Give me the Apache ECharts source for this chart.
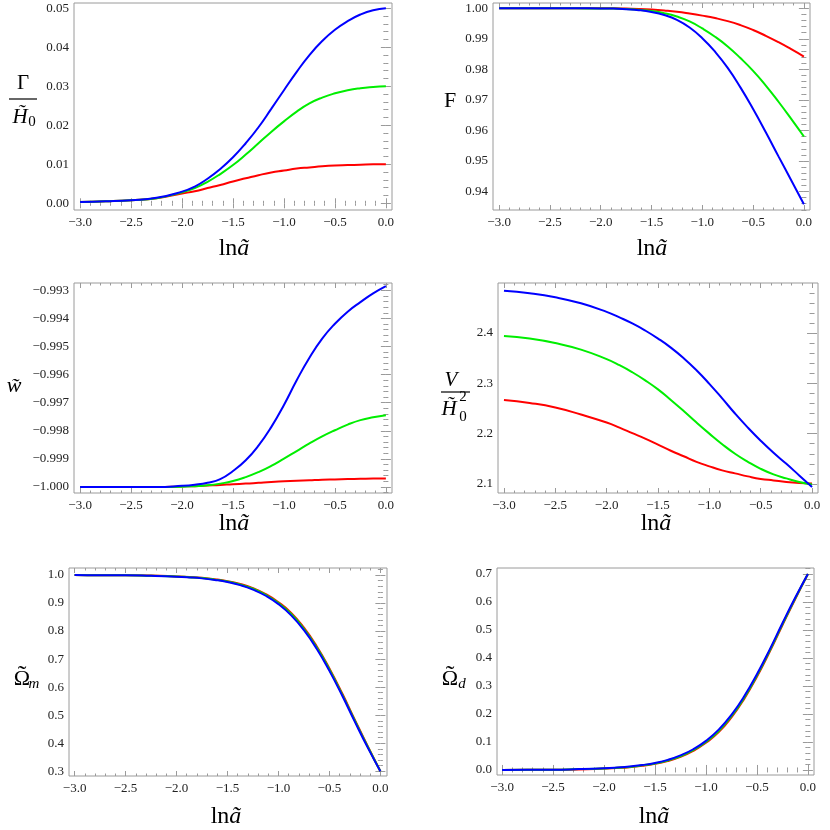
<!DOCTYPE html>
<html><head><meta charset="utf-8">
<script src="https://cdn.jsdelivr.net/npm/echarts@6/dist/echarts.min.js"></script>
<style>html,body{margin:0;padding:0;background:#fff}#c{width:830px;height:830px}</style>
</head><body><div id="c"></div>
<script>
// ---------- data ----------
const lnA = [-3, -2.75, -2.5, -2.25, -2, -1.875, -1.75, -1.625, -1.5, -1.375, -1.25, -1.125, -1, -0.875, -0.75, -0.625, -0.5, -0.375, -0.25, -0.125, 0];
const xTicks = [-3, -2.5, -2, -1.5, -1, -0.5, 0];
const xTickLabels = ['−3.0', '−2.5', '−2.0', '−1.5', '−1.0', '−0.5', '0.0'];

// Gamma / H0
const gammaRed   = [0.0003, 0.0005, 0.0008, 0.0013, 0.0025, 0.0031, 0.0039, 0.0047, 0.0056, 0.0064, 0.0072, 0.0079, 0.0084, 0.0089, 0.0092, 0.0095, 0.0097, 0.0098, 0.0099, 0.0100, 0.0100];
const gammaGreen = [0.0003, 0.0005, 0.0008, 0.0013, 0.0028, 0.0039, 0.0055, 0.0075, 0.0098, 0.0125, 0.0154, 0.0183, 0.0210, 0.0235, 0.0256, 0.0271, 0.0282, 0.0290, 0.0295, 0.0298, 0.0300];
const gammaBlue  = [0.0003, 0.0005, 0.0008, 0.0014, 0.0030, 0.0043, 0.0063, 0.0088, 0.0118, 0.0154, 0.0195, 0.0242, 0.0290, 0.0337, 0.0380, 0.0416, 0.0445, 0.0467, 0.0484, 0.0495, 0.0500];
const gammaTicks = [0, 0.01, 0.02, 0.03, 0.04, 0.05];
const gammaTickLabels = ['0.00', '0.01', '0.02', '0.03', '0.04', '0.05'];

// F
const fRed   = [1, 1, 1, 1, 1, 1, 0.9999, 0.9998, 0.9996, 0.9993, 0.9989, 0.9983, 0.9976, 0.9968, 0.9958, 0.9945, 0.9929, 0.9910, 0.9889, 0.9866, 0.9842];
const fGreen = [1, 1, 1, 1, 0.9999, 0.9999, 0.9998, 0.9995, 0.9991, 0.9984, 0.9973, 0.9957, 0.9934, 0.9907, 0.9875, 0.9837, 0.9795, 0.9747, 0.9694, 0.9638, 0.9580];
const fBlue  = [1, 1, 1, 1, 0.99995, 0.9999, 0.9997, 0.9994, 0.9988, 0.9978, 0.9962, 0.9937, 0.9902, 0.9858, 0.9805, 0.9741, 0.9670, 0.9594, 0.9515, 0.9437, 0.9358];
const fTicks = [0.94, 0.95, 0.96, 0.97, 0.98, 0.99, 1.00];
const fTickLabels = ['0.94', '0.95', '0.96', '0.97', '0.98', '0.99', '1.00'];

// w
const wRed   = [-1, -1, -1, -1, -0.99998, -0.99997, -0.99995, -0.99993, -0.99990, -0.99988, -0.99985, -0.99982, -0.99980, -0.99978, -0.99976, -0.99974, -0.99973, -0.99972, -0.99971, -0.99970, -0.99970];
const wGreen = [-1, -1, -1, -1, -0.99999, -0.99997, -0.99994, -0.99988, -0.99979, -0.99965, -0.99947, -0.99925, -0.99899, -0.99872, -0.99845, -0.99820, -0.99798, -0.99778, -0.99762, -0.99752, -0.99745];
const wBlue  = [-1, -1, -1, -1, -0.99996, -0.99992, -0.99985, -0.99972, -0.99943, -0.99905, -0.99853, -0.99787, -0.99708, -0.99620, -0.99540, -0.99472, -0.99419, -0.99376, -0.99342, -0.99311, -0.99285];
const wTicks = [-1.000, -0.999, -0.998, -0.997, -0.996, -0.995, -0.994, -0.993];
const wTickLabels = ['−1.000', '−0.999', '−0.998', '−0.997', '−0.996', '−0.995', '−0.994', '−0.993'];

// V / H0^2
const vRed   = [2.267, 2.261, 2.252, 2.238, 2.222, 2.212, 2.201, 2.190, 2.178, 2.166, 2.155, 2.144, 2.135, 2.127, 2.121, 2.115, 2.110, 2.107, 2.104, 2.102, 2.101];
const vGreen = [2.394, 2.389, 2.380, 2.367, 2.348, 2.336, 2.322, 2.306, 2.288, 2.267, 2.245, 2.222, 2.200, 2.179, 2.160, 2.144, 2.130, 2.119, 2.111, 2.104, 2.099];
const vBlue  = [2.484, 2.479, 2.471, 2.459, 2.442, 2.431, 2.419, 2.405, 2.389, 2.371, 2.350, 2.326, 2.299, 2.270, 2.240, 2.212, 2.186, 2.162, 2.140, 2.117, 2.094];
const vTicks = [2.1, 2.2, 2.3, 2.4];
const vTickLabels = ['2.1', '2.2', '2.3', '2.4'];

// Omega_m
const omRed   = [1.000, 0.999, 0.999, 0.998, 0.995, 0.993, 0.990, 0.985, 0.978, 0.968, 0.953, 0.932, 0.903, 0.865, 0.812, 0.746, 0.667, 0.578, 0.483, 0.390, 0.300];
const omGreen = [1.000, 0.999, 0.999, 0.997, 0.995, 0.992, 0.989, 0.9835, 0.977, 0.966, 0.951, 0.929, 0.900, 0.861, 0.808, 0.742, 0.663, 0.574, 0.480, 0.388, 0.300];
const omBlue  = [1.000, 0.999, 0.999, 0.997, 0.994, 0.9915, 0.988, 0.9825, 0.975, 0.964, 0.948, 0.926, 0.896, 0.856, 0.803, 0.737, 0.658, 0.570, 0.476, 0.385, 0.300];
const omTicks = [0.3, 0.4, 0.5, 0.6, 0.7, 0.8, 0.9, 1.0];
const omTickLabels = ['0.3', '0.4', '0.5', '0.6', '0.7', '0.8', '0.9', '1.0'];

// Omega_d
const odRed   = [0.000, 0.001, 0.001, 0.002, 0.005, 0.007, 0.010, 0.015, 0.022, 0.032, 0.047, 0.068, 0.097, 0.135, 0.188, 0.254, 0.333, 0.422, 0.517, 0.610, 0.700];
const odGreen = [0.000, 0.001, 0.001, 0.003, 0.005, 0.008, 0.011, 0.0165, 0.023, 0.034, 0.049, 0.071, 0.100, 0.139, 0.192, 0.258, 0.337, 0.426, 0.520, 0.612, 0.700];
const odBlue  = [0.000, 0.001, 0.001, 0.003, 0.006, 0.0085, 0.012, 0.0175, 0.025, 0.036, 0.052, 0.074, 0.104, 0.144, 0.197, 0.263, 0.342, 0.430, 0.524, 0.615, 0.700];
const odTicks = [0, 0.1, 0.2, 0.3, 0.4, 0.5, 0.6, 0.7];
const odTickLabels = ['0.0', '0.1', '0.2', '0.3', '0.4', '0.5', '0.6', '0.7'];

const seriesColors = ['#ff0000', '#00ee00', '#0000ff'];

// ---------- layout ----------
const panels = [
  {grid: [74, 3, 318, 207],  x: [-3.06, 0.06],  y: [-0.00172, 0.05136],   yT: gammaTicks, yL: gammaTickLabels, yMinor: 0.002,  s: [gammaRed, gammaGreen, gammaBlue]},
  {grid: [493, 3, 317, 207], x: [-3.06, 0.06],  y: [0.93394, 1.00174],    yT: fTicks, yL: fTickLabels, yMinor: 0.002,  s: [fRed, fGreen, fBlue]},
  {grid: [74, 283, 318, 210], x: [-3.06, 0.06], y: [-1.000214, -0.99274], yT: wTicks, yL: wTickLabels, yMinor: 0.0002, s: [wRed, wGreen, wBlue]},
  {grid: [498, 283, 320, 210], x: [-3.058, 0.058], y: [2.082, 2.4994],    yT: vTicks, yL: vTickLabels, yMinor: 0.02,   s: [vRed, vGreen, vBlue]},
  {grid: [69, 568, 318, 208], x: [-3.055, 0.065], y: [0.283, 1.025],      yT: omTicks, yL: omTickLabels, yMinor: 0.02, s: [omRed, omGreen, omBlue]},
  {grid: [497, 568, 317, 207], x: [-3.05, 0.06], y: [-0.018, 0.7214],     yT: odTicks, yL: odTickLabels, yMinor: 0.02, s: [odRed, odGreen, odBlue]}
];

function minors(range, step, majors) {
  const out = [];
  const k0 = Math.ceil(range[0] / step - 1e-9), k1 = Math.floor(range[1] / step + 1e-9);
  for (let k = k0; k <= k1; k++) {
    const v = +(k * step).toFixed(8);
    if (!majors.some(m => Math.abs(m - v) < step / 10)) out.push(v);
  }
  return out;
}
function labelFor(vals, labs) {
  return function (v) {
    let bi = 0, bd = Infinity;
    vals.forEach((t, i) => { const d = Math.abs(t - v); if (d < bd) { bd = d; bi = i; } });
    return labs[bi];
  };
}
const FRAME = '#9a9a9a';
const LABEL_FONT = 'Liberation Serif';
function axis(kind, gi, pos, range, vals, len, labs) {
  return {
    type: 'value', gridIndex: gi, position: pos, min: range[0], max: range[1],
    axisLine: {show: false}, splitLine: {show: false},
    axisTick: {show: true, inside: true, length: len, lineStyle: {color: FRAME, width: 1}, customValues: vals},
    axisLabel: labs ? {show: true, customValues: vals, margin: kind === 'x' ? 6 : 5, color: '#222',
      fontFamily: LABEL_FONT, fontSize: 13, formatter: labelFor(vals, labs)} : {show: false}
  };
}

const grids = [], xAxes = [], yAxes = [], series = [];
panels.forEach((p, i) => {
  grids.push({left: p.grid[0], top: p.grid[1], width: p.grid[2], height: p.grid[3],
    show: true, borderColor: FRAME, borderWidth: 1, backgroundColor: 'transparent', containLabel: false});
  const xMin = minors(p.x, 0.1, xTicks);
  const yMin = minors(p.y, p.yMinor, p.yT);
  xAxes.push(axis('x', i, 'bottom', p.x, xTicks, 5, xTickLabels));
  xAxes.push(axis('x', i, 'bottom', p.x, xMin, 2.5, null));
  xAxes.push(axis('x', i, 'top', p.x, xTicks, 5, null));
  xAxes.push(axis('x', i, 'top', p.x, xMin, 2.5, null));
  yAxes.push(axis('y', i, 'left', p.y, p.yT, 5, p.yL));
  yAxes.push(axis('y', i, 'left', p.y, yMin, 2.5, null));
  yAxes.push(axis('y', i, 'right', p.y, p.yT, 5, null));
  yAxes.push(axis('y', i, 'right', p.y, yMin, 2.5, null));
  p.s.forEach((arr, k) => {
    series.push({
      type: 'line', xAxisIndex: 4 * i, yAxisIndex: 4 * i,
      data: lnA.map((x, j) => [x, arr[j]]),
      showSymbol: false, symbol: 'none', smooth: 0.5,
      lineStyle: {width: 2, color: seriesColors[k]}, itemStyle: {color: seriesColors[k]},
      animation: false, z: 2 + k
    });
  });
});

// ---------- axis titles ----------
const SERIF = 'Liberation Serif';
function txt(x, y, text, size, italic, align) {
  return {type: 'text', x: x, y: y, silent: true,
    style: {text: text, font: (italic ? 'italic ' : '') + size + 'px "' + SERIF + '"', fill: '#000',
      textAlign: align || 'center', textVerticalAlign: 'middle'}};
}
function bar(x1, x2, y) {
  return {type: 'line', silent: true, shape: {x1: x1, y1: y, x2: x2, y2: y}, style: {stroke: '#000', lineWidth: 1.2}};
}
function lnTitle(cx, cy) {
  return {type: 'text', x: cx, y: cy, silent: true,
    style: {text: '{a|ln}{b|ã}', textAlign: 'center', textVerticalAlign: 'middle',
      rich: {a: {fontFamily: SERIF, fontSize: 24, fill: '#000'},
             b: {fontFamily: SERIF, fontSize: 24, fontStyle: 'italic', fill: '#000'}}}};
}
const graphic = [
  // panel 1
  txt(23, 83, 'Γ', 21, false), bar(9, 37, 99), txt(20, 117, 'H̃', 21, true), txt(32, 122, '0', 15, false),
  // panel 2
  txt(450, 101, 'F', 22, false),
  // panel 3
  txt(14, 386, 'w̃', 22, true),
  // panel 4
  txt(451, 380, 'V', 21, true), bar(441, 470, 392), txt(449, 409, 'H̃', 21, true),
  txt(463, 397, '2', 15, false), txt(463, 417, '0', 15, false),
  // panel 5
  txt(22, 679, 'Ω', 22, false), txt(22, 676, '˜', 26, false), txt(34, 684, 'm', 15, true),
  // panel 6
  txt(450, 679, 'Ω', 22, false), txt(450, 676, '˜', 26, false), txt(462, 684, 'd', 15, true),
  // x titles
  lnTitle(234, 249), lnTitle(652, 249), lnTitle(234, 524), lnTitle(656, 524), lnTitle(226, 817), lnTitle(654, 817)
];

const chart = echarts.init(document.getElementById('c'), null, {renderer: 'canvas'});
chart.setOption({
  animation: false, backgroundColor: '#fff',
  grid: grids, xAxis: xAxes, yAxis: yAxes, series: series, graphic: graphic
});
</script></body></html>
